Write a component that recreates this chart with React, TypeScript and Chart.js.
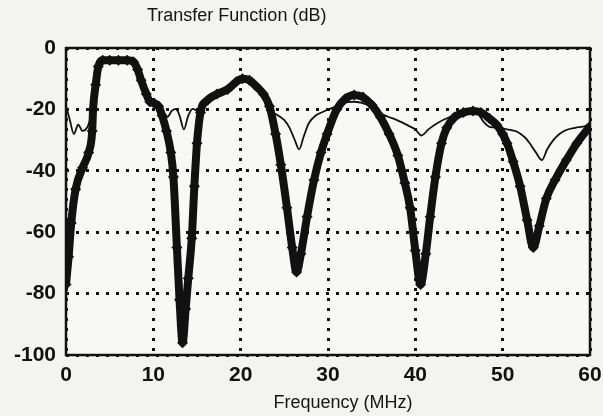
import React, { useEffect, useRef } from "react";
import { Chart, registerables } from "chart.js";

Chart.register(...registerables);

// Frequency axis (MHz) and gain axis (dB) tick values
const freqTicks = [0, 10, 20, 30, 40, 50, 60];
const gainTicks = [-100, -80, -60, -40, -20, 0];

// Thin trace: frequency (MHz) and transfer function (dB)
const thinFreq = [
  0, 0.4, 0.9, 1.4, 1.9, 2.4, 2.8, 3.1, 3.4, 3.7, 4.2, 5, 6, 7, 7.7, 8.2, 8.6, 9.2, 9.6,
  10.1, 10.6, 11.0, 11.6, 12.1, 12.6, 13.0, 13.5, 14.0, 14.5, 15.0, 15.4, 16.2, 17.3,
  18.5, 19.5, 20.2, 21.0, 21.8, 22.6, 23.4, 24.2, 25.0, 25.6, 26.2, 26.7, 27.2, 27.8,
  28.6, 29.5, 30.5, 31.5, 33.0, 34.5, 35.6, 36.8, 37.9, 39.4, 40.0, 40.7, 41.5, 42.5,
  44.0, 45.5, 46.6, 47.2, 47.8, 48.6, 49.5, 50.5, 51.6, 52.5, 53.1, 53.8, 54.5, 55.1,
  55.8, 56.5, 57.3, 58.3, 59.2, 60,
];
const thinGain = [
  -19, -23, -28, -25, -27, -26, -23, -20, -12, -6, -4, -4, -4, -4, -4.5, -7, -10.5, -15,
  -17.5, -18, -19, -21.5, -22.5, -20.5, -19.8, -22, -26.5, -22, -19.8, -20.5, -21, -17,
  -15, -13.5, -11, -10, -10.5, -12.5, -16, -20.5, -21.8, -23.5, -26, -30, -33, -29,
  -24.5, -22, -20.7, -19.5, -18, -17.5, -18.5, -20.7, -22.3, -23.5, -25.6, -26.5, -28.5,
  -26.5, -24.5, -22.4, -21, -20.7, -21.5, -24, -25.8, -26, -26.5, -27.2, -29, -31, -34,
  -36.5, -33, -30, -28, -26.7, -26, -25.6, -25,
];

// Thick marked trace: frequency (MHz) and transfer function (dB)
const thickFreq = [
  0, 0.3, 0.6, 1.1, 1.9, 2.6, 3.0, 3.1, 3.4, 3.7, 4.2, 5, 6, 7, 7.7, 8.2, 8.6, 9.2, 9.6,
  10.1, 10.6, 11.0, 11.5, 12.0, 12.3, 12.7, 13.0, 13.35, 13.7, 14.0, 14.4, 14.7, 15.0,
  15.4, 16.2, 17.3, 18.5, 19.5, 20.2, 21.0, 21.8, 22.6, 23.3, 24.0, 24.6, 25.3, 25.9,
  26.4, 26.9, 27.6, 28.4, 29.2, 29.9, 31.0, 32.0, 33.0, 34.0, 35.0, 36.0, 37.0, 38.0,
  38.8, 39.4, 40.0, 40.6, 41.2, 41.7, 42.3, 43.0, 43.6, 44.5, 45.5, 46.6, 47.5, 48.5,
  49.3, 50.0, 50.5, 51.2, 52.0, 52.8, 53.5, 54.2, 55.0, 56.0, 57.3, 58.5, 60,
];
const thickGain = [
  -77, -68, -57, -46, -39, -34, -27, -20, -12, -6, -4, -4, -4, -4, -4.5, -7, -10.5, -15,
  -17.5, -18, -19, -22, -27, -34, -42, -65, -82, -96, -85, -75, -62, -45, -31, -21, -17,
  -15, -13.5, -11, -10, -10.5, -12.5, -15, -19, -28, -38, -52, -65, -73, -67, -55, -43,
  -34, -28, -20, -16.5, -15.3, -16, -18.5, -22.5, -28, -35, -44, -52, -66, -77, -67, -55,
  -42, -31, -26, -22.5, -21, -20.5, -21, -23, -25, -28, -31, -37, -45, -56, -65, -58,
  -49, -43, -36.5, -31, -25.5,
];

const FONT = "'Liberation Sans', Arial, sans-serif";
const INK = "#111111";

const toPoints = (xs: number[], ys: number[]) => xs.map((x, i) => ({ x, y: ys[i] }));

// Paper background, plot frame and the two captions
const decorations = {
  id: "decorations",
  beforeDraw(chart: any) {
    const { ctx, width, height, chartArea } = chart;
    ctx.save();
    ctx.fillStyle = "#f3f3f1";
    ctx.fillRect(0, 0, width, height);
    ctx.fillStyle = "#f8f8f7";
    ctx.fillRect(chartArea.left, chartArea.top, chartArea.right - chartArea.left, chartArea.bottom - chartArea.top);
    ctx.restore();
  },
  afterDraw(chart: any) {
    const { ctx, chartArea } = chart;
    ctx.save();
    ctx.strokeStyle = INK;
    ctx.lineWidth = 2.5;
    ctx.strokeRect(chartArea.left, chartArea.top, chartArea.right - chartArea.left, chartArea.bottom - chartArea.top);
    ctx.fillStyle = "#151515";
    ctx.font = `18px ${FONT}`;
    ctx.textBaseline = "middle";
    ctx.textAlign = "left";
    ctx.fillText("Transfer Function (dB)", 147, 16);
    ctx.textAlign = "center";
    ctx.fillText("Frequency (MHz)", 343, 403);
    ctx.restore();
  },
};

export default function App() {
  const canvasRef = useRef<HTMLCanvasElement | null>(null);

  useEffect(() => {
    if (!canvasRef.current) return;
    const chart = new Chart(canvasRef.current, {
      type: "line",
      data: {
        datasets: [
          {
            label: "thin",
            data: toPoints(thinFreq, thinGain),
            borderColor: INK,
            borderWidth: 1.8,
            pointRadius: 0,
            cubicInterpolationMode: "monotone",
            order: 2,
          },
          {
            label: "thick",
            data: toPoints(thickFreq, thickGain),
            borderColor: INK,
            backgroundColor: INK,
            borderWidth: 8,
            pointStyle: "rectRot",
            pointRadius: 5.5,
            pointBorderWidth: 0,
            cubicInterpolationMode: "monotone",
            order: 1,
          },
        ],
      },
      options: {
        responsive: false,
        animation: false,
        devicePixelRatio: 1,
        layout: { padding: { left: 0, top: 48, right: 13, bottom: 0 } },
        plugins: {
          legend: { display: false },
          title: { display: false },
          tooltip: { enabled: false },
        },
        scales: {
          x: {
            type: "linear",
            min: 0,
            max: 60,
            afterBuildTicks: (scale: any) => {
              scale.ticks = freqTicks.map((v) => ({ value: v }));
            },
            afterFit: (scale: any) => {
              scale.height = 61;
              scale.paddingLeft = 0;
              scale.paddingRight = 0;
            },
            ticks: {
              color: INK,
              font: { family: FONT, size: 21, weight: "bold" },
              padding: 8,
              maxRotation: 0,
            },
            grid: {
              color: INK,
              lineWidth: 3,
              drawTicks: false,
            },
            border: { display: false, dash: [3, 7] },
          },
          y: {
            type: "linear",
            min: -100,
            max: 0,
            afterBuildTicks: (scale: any) => {
              scale.ticks = gainTicks.map((v) => ({ value: v }));
            },
            afterFit: (scale: any) => {
              scale.width = 66;
              scale.paddingTop = 0;
              scale.paddingBottom = 0;
            },
            ticks: {
              color: INK,
              font: { family: FONT, size: 21, weight: "bold" },
              padding: 10,
            },
            grid: {
              color: INK,
              lineWidth: 3,
              drawTicks: false,
            },
            border: { display: false, dash: [3, 7] },
          },
        },
      },
      plugins: [decorations],
    });
    return () => chart.destroy();
  }, []);

  return (
    <div style={{ position: "fixed", left: 0, top: 0, width: 603, height: 416 }}>
      <canvas ref={canvasRef} width={603} height={416} />
    </div>
  );
}
